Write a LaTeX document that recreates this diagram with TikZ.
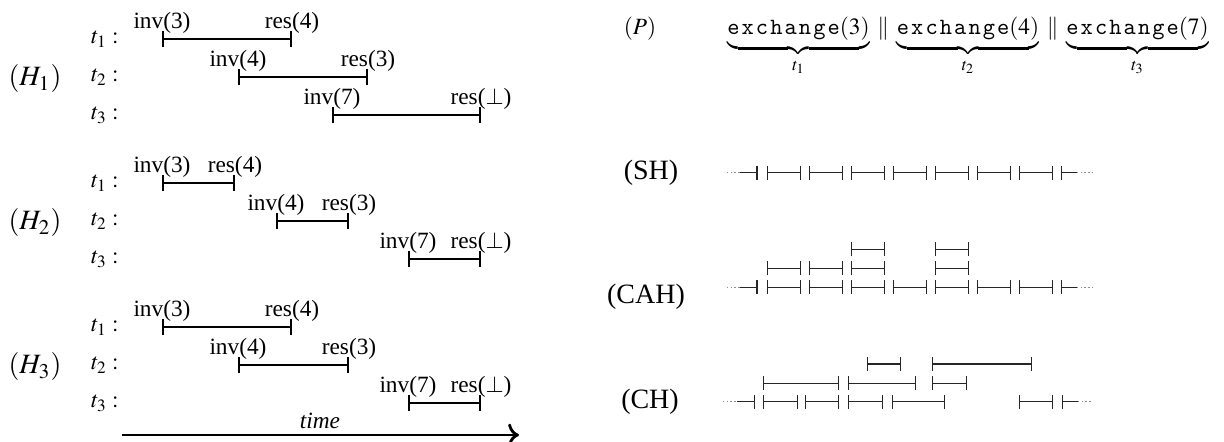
\documentclass[tikz,border=0pt]{standalone}
\usepackage{mathptmx}
\usepackage{fontspec}
\setmainfont{Liberation Serif}
\setmonofont{Latin Modern Mono}[LetterSpace=9]
\usetikzlibrary{arrows.meta}

\newcommand{\xchg}[1]{\mbox{\ttfamily exchange}(#1)}

\begin{document}
\begin{tikzpicture}[
    x=0.429pt, y=-0.429pt,
    op/.style={line width=0.9pt, {Bar[width=7pt]}-{Bar[width=7pt]}},
    ev/.style={anchor=base, yshift=4.5pt, inner sep=0pt},
    thr/.style={anchor=base east, inner sep=0pt},
    hist/.style={inner sep=0pt, font=\large},
    run/.style={font=\large},
    seg/.style={line width=0.6pt, black!85, {Bar[width=6pt]}-{Bar[width=6pt]}},
    segin/.style={line width=0.6pt, black!85, -{Bar[width=6pt]}},
    segout/.style={line width=0.6pt, black!85, {Bar[width=6pt]}-},
    fade/.style={line width=0.6pt, black!45, densely dotted},
    timearrow/.style={line width=1.2pt, -{To[scale=1.1]}}
]
    \useasboundingbox (0,0) rectangle (1224,442);

    % Histories H1, H2, H3 (interval end points per thread)
    \foreach \h/\y/\a/\b/\c/\d/\e/\f in {1/39/162/292/238/368/332/481,
                                        2/183/162/235/276/349/408/481,
                                        3/327/162/292/238/349/408/481} {
        \node[hist] (H\h) at (35,{\y+40}) {$(H_\h)$};
        \foreach \j in {1,2,3}
            \node[thr] (H\h t\j) at (119,{\y+38*(\j-1)+4.5}) {$t_\j:$};
        \draw[op] (\a,\y) node[ev] (H\h i1) {inv(3)}
            -- (\b,\y) node[ev] (H\h r1) {res(4)};
        \draw[op] (\c,{\y+38}) node[ev] (H\h i2) {inv(4)}
            -- (\d,{\y+38}) node[ev] (H\h r2) {res(3)};
        \draw[op] (\e,{\y+76}) node[ev] (H\h i3) {inv(7)}
            -- (\f,{\y+76}) node[ev] (H\h r3) {res($\bot$)};
    }

    % Time axis
    \coordinate (t0) at (122,435);
    \coordinate (t1) at (519,435);
    \draw[timearrow] (t0) -- (t1);
    \node (time) at (320,421) {\textit{time}};

    % Program
    \node[anchor=base] (P) at (640,34) {$(P)$};
    \node[anchor=base, inner sep=0pt] (prog) at (968,34)
        {$\underbrace{\xchg{3}}_{t_1}\,\parallel\,
          \underbrace{\xchg{4}}_{t_2}\,\parallel\,
          \underbrace{\xchg{7}}_{t_3}$};

    % Labels of the executions
    \node[run] (sh) at (651,172.7) {(SH)};
    \node[run] (cah) at (646,297) {(CAH)};
    \node[run] (ch) at (650,401.7) {(CH)};

    % SH
    \draw[fade] (727,172.7) -- (740,172.7);
    \draw[segin] (740,172.7) -- (757.5,172.7);
    \foreach \k in {0,...,6}
        \draw[seg] ({767+42*\k},172.7) -- ({801+42*\k},172.7);
    \draw[segout] (1061,172.7) -- (1077,172.7);
    \draw[fade] (1077,172.7) -- (1092,172.7);

    % CAH
    \draw[fade] (727,287.3) -- (740,287.3);
    \draw[segin] (740,287.3) -- (757.5,287.3);
    \foreach \k in {0,...,6}
        \draw[seg] ({767+42*\k},287.3) -- ({801+42*\k},287.3);
    \foreach \k in {0,1,2,4}
        \draw[seg] ({767+42*\k},268.3) -- ({801+42*\k},268.3);
    \foreach \k in {2,4}
        \draw[seg] ({767+42*\k},249.3) -- ({801+42*\k},249.3);
    \draw[segout] (1061,287.3) -- (1077,287.3);
    \draw[fade] (1077,287.3) -- (1092,287.3);

    % CH
    \draw[fade] (723,401.7) -- (737,401.7);
    \draw[segin] (737,401.7) -- (755,401.7);
    \foreach \a/\b in {763/798, 805/839, 848/883, 892/945, 1019/1053}
        \draw[seg] (\a,401.7) -- (\b,401.7);
    \foreach \a/\b in {763/839, 848/916, 932/967}
        \draw[seg] (\a,383.3) -- (\b,383.3);
    \foreach \a/\b in {867/901, 932/1032}
        \draw[seg] (\a,364) -- (\b,364);
    \draw[segout] (1062,401.7) -- (1078,401.7);
    \draw[fade] (1078,401.7) -- (1092,401.7);

\end{tikzpicture}
\end{document}
